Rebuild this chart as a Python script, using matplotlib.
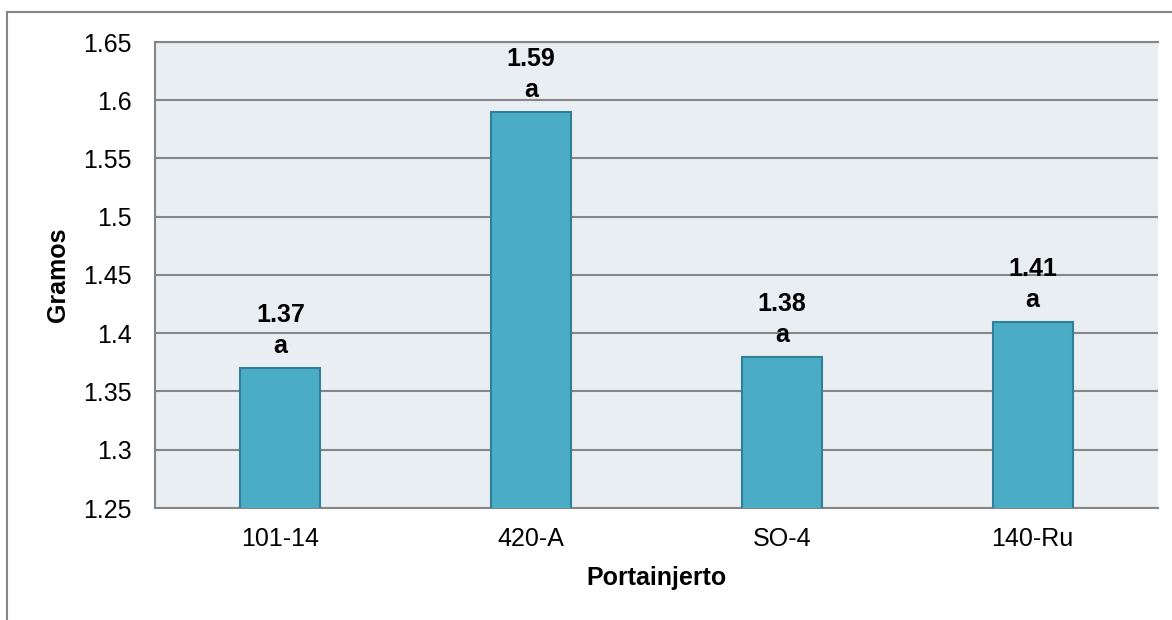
import matplotlib
matplotlib.use("Agg")
import matplotlib.pyplot as plt
from matplotlib.patches import Rectangle

plt.rcParams['font.family'] = ['Liberation Sans', 'DejaVu Sans']

portainjertos = ['101-14', '420-A', 'SO-4', '140-Ru']
gramos = [1.37, 1.59, 1.38, 1.41]
letras = ['a', 'a', 'a', 'a']
yticks = [1.25, 1.3, 1.35, 1.4, 1.45, 1.5, 1.55, 1.6, 1.65]

fig = plt.figure(figsize=(11.72, 6.2), dpi=100)
# marco exterior del grafico
fig.patches.append(Rectangle((7 / 1172, -0.1), 1.2, 1 - 12 / 620 + 0.1,
                             transform=fig.transFigure, fill=False,
                             edgecolor='#868686', linewidth=1.5))

ax = fig.add_axes([155 / 1172, 1 - 508 / 620, (1158 - 155) / 1172, (508 - 42) / 620])
ax.set_facecolor('#E8EEF2')

x = range(len(portainjertos))
ax.bar(x, gramos, width=0.32, color='#4BACC6',
       edgecolor='#31809A', linewidth=1.5, zorder=3)

for xi, v, l in zip(x, gramos, letras):
    ax.annotate(l, (xi, v), xytext=(0, 22), textcoords='offset pixels',
                ha='center', va='center', fontsize=18, fontweight='bold')
    ax.annotate('%.2f' % v, (xi, v), xytext=(0, 53), textcoords='offset pixels',
                ha='center', va='center', fontsize=18, fontweight='bold')

ax.set_ylim(1.25, 1.65)
ax.set_xlim(-0.5, 3.5)
ax.set_yticks(yticks)
ax.set_yticklabels(['%g' % t for t in yticks])
ax.set_xticks(list(x))
ax.set_xticklabels(portainjertos)
ax.yaxis.grid(True, color='#868686', linewidth=1.5, zorder=0)
ax.set_axisbelow(True)
ax.tick_params(axis='y', length=0, labelsize=18, pad=17)
ax.tick_params(axis='x', length=0, labelsize=18, pad=14)

ax.spines['right'].set_visible(False)
for s in ['left', 'bottom', 'top']:
    ax.spines[s].set_color('#868686')
    ax.spines[s].set_linewidth(1.5)

ax.set_ylabel('Gramos', fontsize=18, fontweight='bold')
ax.yaxis.set_label_coords(-0.085, 0.5)
ax.set_xlabel('Portainjerto', fontsize=18, fontweight='bold')
ax.xaxis.set_label_coords(0.5, -0.125)

fig.savefig('out.png', dpi=100)
